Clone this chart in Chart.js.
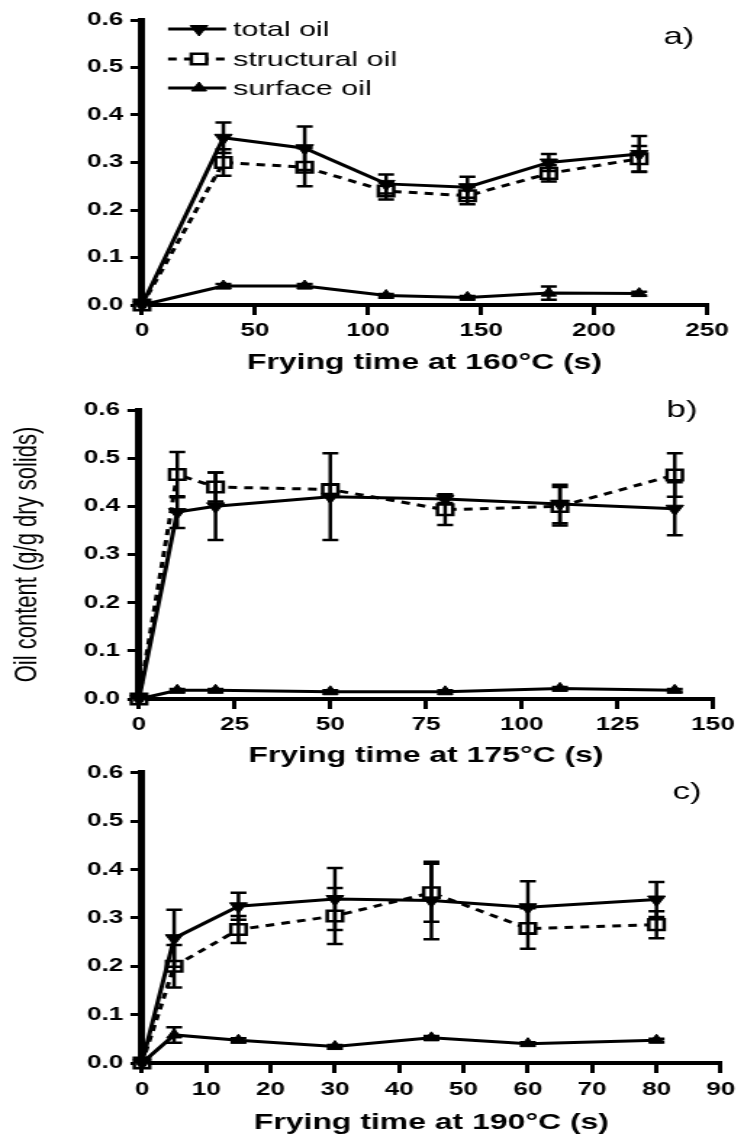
<!DOCTYPE html>
<html>
<head>
<meta charset="utf-8">
<script src="https://cdn.jsdelivr.net/npm/chart.js@4.4.1/dist/chart.umd.min.js"></script>
<style>
  html, body { margin: 0; padding: 0; background: #fff; }
  #wrap { position: relative; width: 744px; height: 1137px; overflow: hidden; background: #fff; }
  /* the original figure is stretched sideways, so the canvases are drawn narrow and widened */
  canvas { position: absolute; left: 0; width: 744px !important; }
  #chartA { top: 0; height: 377px !important; }
  #chartB { top: 380px; height: 390px !important; }
  #chartC { top: 757px; height: 380px !important; }
</style>
</head>
<body>
<div id="wrap">
  <canvas id="chartA" width="513" height="377"></canvas>
  <canvas id="chartB" width="513" height="390"></canvas>
  <canvas id="chartC" width="513" height="380"></canvas>
</div>
<script>
// frying at 160 °C
const timeA = [0, 36, 72, 108, 144, 180, 220];
const totalA = [0, 0.352, 0.330, 0.255, 0.248, 0.300, 0.318];
const totalErrA = [0, 0.032, 0.046, 0.020, 0.022, 0.018, 0.038];
const structA = [0, 0.300, 0.290, 0.240, 0.230, 0.277, 0.308];
const structErrA = [0, 0.028, 0.040, 0.018, 0.018, 0.017, 0.027];
const surfA = [0, 0.040, 0.040, 0.020, 0.016, 0.025, 0.024];
const surfErrA = [0, 0.004, 0.004, 0.003, 0.003, 0.014, 0.004];

// frying at 175 °C
const timeB = [0, 10, 20, 50, 80, 110, 140];
const totalB = [0, 0.388, 0.400, 0.420, 0.415, 0.405, 0.395];
const totalErrB = [0, 0.033, 0.070, 0.090, 0.008, 0.040, 0.055];
const structB = [0, 0.466, 0.440, 0.435, 0.393, 0.400, 0.465];
const structErrB = [0, 0.047, 0.030, 0.010, 0.032, 0.040, 0.045];
const surfB = [0, 0.018, 0.018, 0.015, 0.015, 0.022, 0.018];
const surfErrB = [0, 0.003, 0.003, 0.003, 0.003, 0.003, 0.003];

// frying at 190 °C
const timeC = [0, 5, 15, 30, 45, 60, 80];
const totalC = [0, 0.258, 0.324, 0.339, 0.336, 0.322, 0.338];
const totalErrC = [0, 0.059, 0.028, 0.064, 0.080, 0.054, 0.036];
const structC = [0, 0.200, 0.276, 0.304, 0.352, 0.278, 0.286];
const structErrC = [0, 0.044, 0.028, 0.058, 0.060, 0.042, 0.028];
const surfC = [0, 0.058, 0.047, 0.034, 0.052, 0.040, 0.047];
const surfErrC = [0, 0.016, 0.004, 0.003, 0.004, 0.003, 0.003];

const yTicks = [0, 0.1, 0.2, 0.3, 0.4, 0.5, 0.6];
const seriesNames = ["total oil", "structural oil", "surface oil"];

const FONT = '"Liberation Sans", Arial, sans-serif';
const W = 513;
const S = 744 / W; // sideways stretch

Chart.defaults.font.family = FONT;
Chart.defaults.color = "#000";

const errorBars = {
    id: "errorBars",
    afterDatasetsDraw(chart) {
        const ctx = chart.ctx;
        const xs = chart.scales.x;
        const ys = chart.scales.y;
        const cap = 5.5;
        ctx.save();
        ctx.strokeStyle = "#000";
        ctx.lineWidth = 2.5;
        chart.data.datasets.forEach((ds) => {
            if (!ds.errors) return;
            ds.data.forEach((p, i) => {
                const e = ds.errors[i];
                if (!e) return;
                const x = xs.getPixelForValue(p.x);
                const y1 = ys.getPixelForValue(p.y - e);
                const y2 = ys.getPixelForValue(p.y + e);
                ctx.beginPath();
                ctx.moveTo(x, y1);
                ctx.lineTo(x, y2);
                ctx.moveTo(x - cap, y1);
                ctx.lineTo(x + cap, y1);
                ctx.moveTo(x - cap, y2);
                ctx.lineTo(x + cap, y2);
                ctx.stroke();
            });
        });
        ctx.restore();
    },
};

const panelDecor = {
    id: "panelDecor",
    afterDraw(chart, args, opts) {
        const ctx = chart.ctx;
        ctx.save();
        ctx.fillStyle = "#000";
        ctx.font = "24px " + FONT;
        ctx.textAlign = "center";
        ctx.textBaseline = "middle";
        ctx.fillText(opts.label, opts.labelX, opts.labelY);

        if (opts.legend) {
            const rows = [29, 59, 88];
            const x0 = 168 / S, x1 = 226 / S, xm = 199 / S, xt = 233 / S;
            chart.data.datasets.forEach((ds, i) => {
                const y = rows[i];
                ctx.strokeStyle = "#000";
                ctx.lineWidth = ds.borderWidth;
                ctx.setLineDash(ds.borderDash || []);
                ctx.beginPath();
                ctx.moveTo(x0, y);
                ctx.lineTo(x1, y);
                ctx.stroke();
                ctx.setLineDash([]);
                ctx.fillStyle = ds.pointBackgroundColor;
                ctx.lineWidth = ds.pointBorderWidth;
                Chart.helpers.drawPoint(ctx, {
                    pointStyle: ds.pointStyle,
                    rotation: ds.pointRotation || 0,
                    radius: ds.pointRadius,
                    borderWidth: ds.pointBorderWidth,
                }, xm, y);
                ctx.fillStyle = "#000";
                ctx.font = "21px " + FONT;
                ctx.textAlign = "left";
                ctx.fillText(ds.label, xt, y + 1);
            });
        }
        ctx.restore();
    },
};

function points(time, values) {
    return time.map((t, i) => ({ x: t, y: values[i] }));
}

function createChart(elementId, p) {
    const canvas = document.getElementById(elementId);
    if (!canvas || typeof Chart === "undefined") {
        return;
    }

    new Chart(canvas.getContext("2d"), {
        type: "line",

        data: {
            datasets: [
                {
                    label: seriesNames[0],
                    data: points(p.time, p.total),
                    errors: p.totalErr,
                    borderColor: "#000",
                    borderWidth: 3,
                    pointStyle: "triangle",
                    pointRotation: 180,
                    pointRadius: 7,
                    pointBackgroundColor: "#000",
                    pointBorderColor: "#000",
                    pointBorderWidth: 1,
                    tension: 0,
                    clip: false,
                },
                {
                    label: seriesNames[1],
                    data: points(p.time, p.struct),
                    errors: p.structErr,
                    borderColor: "#000",
                    borderWidth: 3,
                    borderDash: [6, 5],
                    pointStyle: "rect",
                    pointRadius: 7.5,
                    pointBackgroundColor: "#fff",
                    pointBorderColor: "#000",
                    pointBorderWidth: 2.5,
                    tension: 0,
                    clip: false,
                },
                {
                    label: seriesNames[2],
                    data: points(p.time, p.surf),
                    errors: p.surfErr,
                    borderColor: "#000",
                    borderWidth: 3,
                    pointStyle: "triangle",
                    pointRadius: 6,
                    pointBackgroundColor: "#000",
                    pointBorderColor: "#000",
                    pointBorderWidth: 1,
                    tension: 0,
                    clip: false,
                },
            ],
        },

        options: {
            responsive: false,
            animation: false,
            events: [],

            layout: {
                padding: { left: 0, top: p.chartTop, right: W - p.right, bottom: 0 },
            },

            scales: {
                x: {
                    type: "linear",
                    min: 0,
                    max: p.xMax,
                    afterFit: (scale) => { scale.height = p.height - p.chartBottom; },
                    grid: { drawOnChartArea: false, drawTicks: true, tickLength: 10, color: "#000", lineWidth: 3 },
                    border: { display: true, color: "#000", width: 4 },
                    ticks: {
                        stepSize: p.xStep,
                        padding: p.labelPad,
                        color: "#000",
                        font: { size: 18, weight: "bold" },
                        maxRotation: 0,
                        autoSkip: false,
                    },
                    title: {
                        display: true,
                        text: p.xTitle,
                        color: "#000",
                        font: { size: 22, weight: "bold" },
                        padding: { top: 0, bottom: 1 },
                    },
                },
                y: {
                    min: 0,
                    max: 0.6,
                    afterFit: (scale) => { scale.width = p.left; },
                    afterBuildTicks: (scale) => { scale.ticks = yTicks.map((v) => ({ value: v })); },
                    grid: { drawOnChartArea: false, drawTicks: true, tickLength: 8, color: "#000", lineWidth: 3 },
                    border: { display: true, color: "#000", width: 5 },
                    ticks: {
                        padding: 5,
                        color: "#000",
                        font: { size: 18, weight: "bold" },
                        callback: (v) => Number(v).toFixed(1),
                    },
                    title: {
                        display: !!p.yTitle,
                        text: p.yTitle || "",
                        color: "#000",
                        font: { size: 22, weight: "normal" },
                        padding: { top: 5.4, bottom: 0 },
                    },
                },
            },

            plugins: {
                legend: { display: false },
                tooltip: { enabled: false },
                panelDecor: {
                    label: p.label,
                    labelX: p.labelX,
                    labelY: p.labelY,
                    legend: p.legend,
                },
            },
        },

        plugins: [errorBars, panelDecor],
    });
}

createChart("chartA", {
    time: timeA, total: totalA, totalErr: totalErrA, struct: structA, structErr: structErrA,
    surf: surfA, surfErr: surfErrA,
    xMax: 250, xStep: 50, xTitle: "Frying time at 160\u00B0C (s)",
    left: 142 / S, right: 707 / S, chartTop: 20, chartBottom: 305, height: 377, labelPad: 5,
    label: "a)", labelX: 679 / S, labelY: 37, legend: true,
});

createChart("chartB", {
    time: timeB, total: totalB, totalErr: totalErrB, struct: structB, structErr: structErrB,
    surf: surfB, surfErr: surfErrB,
    xMax: 150, xStep: 25, xTitle: "Frying time at 175\u00B0C (s)",
    yTitle: "Oil content (g/g dry solids)",
    left: 139 / S, right: 713 / S, chartTop: 30, chartBottom: 319, height: 390, labelPad: 5,
    label: "b)", labelX: 682 / S, labelY: 30, legend: false,
});

createChart("chartC", {
    time: timeC, total: totalC, totalErr: totalErrC, struct: structC, structErr: structErrC,
    surf: surfC, surfErr: surfErrC,
    xMax: 90, xStep: 10, xTitle: "Frying time at 190\u00B0C (s)",
    left: 142 / S, right: 729 / S, chartTop: 11, chartBottom: 306, height: 380, labelPad: 6,
    label: "c)", labelX: 687 / S, labelY: 35, legend: false,
});
</script>
</body>
</html>
